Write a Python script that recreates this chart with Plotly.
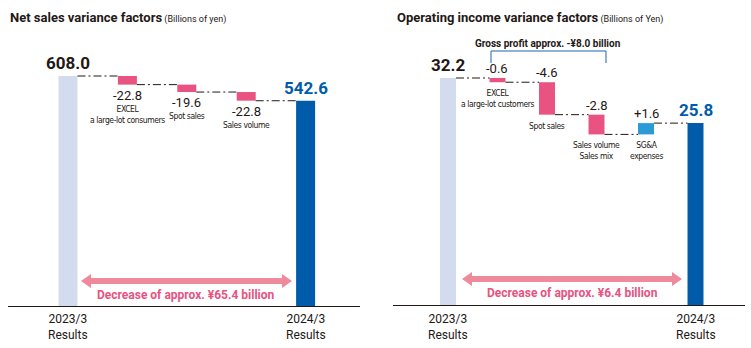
import plotly.graph_objects as go

W, H = 751, 348

# ---------------- data ----------------
ns_start_label = "2023/3<br>Results"
ns_end_label = "2024/3<br>Results"
ns_start = 608.0
ns_end = 542.6
ns_factor_names = ["EXCEL<br>a large-lot consumers", "Spot sales", "Sales volume"]
ns_factor_values = [-22.8, -19.6, -22.8]

oi_start = 32.2
oi_end = 25.8
oi_factor_names = ["EXCEL<br>a large-lot customers", "Spot sales", "Sales volume<br>Sales mix", "SG&A<br>expenses"]
oi_factor_values = [-0.6, -4.6, -2.8, 1.6]

ns_title = "Net sales variance factors"
ns_unit = "(Billions of yen)"
oi_title = "Operating income variance factors"
oi_unit = "(Billions of Yen)"
ns_diff_text = "Decrease of approx. ¥65.4 billion"
oi_diff_text = "Decrease of approx. ¥6.4 billion"
gross_text = "Gross profit approx. -¥8.0 billion"

# ---------------- styles ----------------
C_START = "#d3dcef"
C_END = "#005bab"
C_NEG = "#e95382"
C_POS = "#2a9bd7"
C_ARROW = "#ef8a9c"
C_PINKTXT = "#e8527f"
C_TXT = "#231815"
FONT = "Roboto, 'Noto Sans', sans-serif"
NARROW = "'Liberation Sans Narrow', 'DejaVu Sans Condensed', Roboto, sans-serif"

def px(x):
    return x / W

def py(y):
    return 1 - y / H

def narrow(t):
    return "<br>".join(f"<span style='letter-spacing:-0.4px'>{p}</span>" for p in t.split("<br>"))

fig = go.Figure()

def add_waterfall(start, end, names, vals, xa, ya, bw):
    n = len(vals)
    xs = list(range(n + 2))
    fig.add_trace(go.Bar(x=[0], y=[start], base=[0], width=bw, marker_color=C_START,
                         marker_line_width=0, xaxis=xa, yaxis=ya, hoverinfo="skip"))
    fig.add_trace(go.Bar(x=[n + 1], y=[end], base=[0], width=bw, marker_color=C_END,
                         marker_line_width=0, xaxis=xa, yaxis=ya, hoverinfo="skip"))
    cum = start
    levels = [start]
    bases, heights, colors = [], [], []
    for v in vals:
        nxt = cum + v
        bases.append(min(cum, nxt))
        heights.append(abs(v))
        colors.append(C_NEG if v < 0 else C_POS)
        cum = nxt
        levels.append(cum)
    fig.add_trace(go.Bar(x=xs[1:n + 1], y=heights, base=bases, width=bw, marker_color=colors,
                         marker_line_width=0, xaxis=xa, yaxis=ya, hoverinfo="skip"))
    for i in range(n + 1):
        lvl = levels[i] if i < n else end
        fig.add_shape(type="line", x0=i + bw / 2, x1=i + 1 - bw / 2, y0=lvl, y1=lvl,
                      xref=xa, yref=ya, line=dict(color=C_TXT, width=1, dash="8px,3px,2px,3px"))
    return levels

bwL = 0.32
levL = add_waterfall(ns_start, ns_end, ns_factor_names, ns_factor_values, "x", "y", bwL)
bwR = 0.323
levR = add_waterfall(oi_start, oi_end, oi_factor_names, oi_factor_values, "x2", "y2", bwR)

annotations = []

def ann(**kw):
    d = dict(showarrow=False, xanchor="center")
    d.update(kw)
    annotations.append(d)

def fmt(v):
    return f"+{v:.1f}" if v > 0 else f"{v:.1f}"

# left totals
ann(x=0, y=ns_start, xref="x", yref="y", yanchor="bottom", yshift=1,
    text=f"<b>{ns_start:.1f}</b>", font=dict(size=17, color=C_TXT, family=FONT))
ann(x=len(ns_factor_values) + 1, y=ns_end, xref="x", yref="y", yanchor="bottom", yshift=1,
    text=f"<b>{ns_end:.1f}</b>", font=dict(size=17, color=C_END, family=FONT))
for i, (nm, v) in enumerate(zip(ns_factor_names, ns_factor_values)):
    bottom = min(levL[i], levL[i + 1])
    ann(x=i + 1, y=bottom, xref="x", yref="y", yanchor="top", yshift=-1,
        text=fmt(v), font=dict(size=13, color=C_TXT, family=FONT))
    ann(x=i + 1, y=bottom, xref="x", yref="y", yanchor="top", yshift=-17,
        text=narrow(nm), font=dict(size=8.5, color=C_TXT, family=NARROW))

# right totals
ann(x=0, y=oi_start, xref="x2", yref="y2", yanchor="bottom", yshift=1,
    text=f"<b>{oi_start:.1f}</b>", font=dict(size=17, color=C_TXT, family=FONT))
ann(x=len(oi_factor_values) + 1, y=oi_end, xref="x2", yref="y2", yanchor="bottom", yshift=1,
    text=f"<b>{oi_end:.1f}</b>", font=dict(size=17, color=C_END, family=FONT))
for i, (nm, v) in enumerate(zip(oi_factor_names, oi_factor_values)):
    top = max(levR[i], levR[i + 1])
    bottom = min(levR[i], levR[i + 1])
    ann(x=i + 1, y=top, xref="x2", yref="y2", yanchor="bottom", yshift=0,
        text=fmt(v), font=dict(size=13, color=C_TXT, family=FONT))
    ann(x=i + 1, y=bottom, xref="x2", yref="y2", yanchor="top", yshift=-4,
        text=narrow(nm), font=dict(size=8.5, color=C_TXT, family=NARROW))

# category labels
for xa, n in (("x", len(ns_factor_values)), ("x2", len(oi_factor_values))):
    for xi, lab in ((0, ns_start_label), (n + 1, ns_end_label)):
        ann(x=xi, y=py(310), xref=xa, yref="paper", yanchor="top",
            text=lab, font=dict(size=12, color=C_TXT, family=FONT))

# titles
ann(x=px(8), y=py(18), xref="paper", yref="paper", xanchor="left", yanchor="middle",
    text=f"<b>{ns_title}</b><span style='font-size:9px'> {ns_unit}</span>",
    font=dict(size=13, color=C_TXT, family=FONT))
ann(x=px(395), y=py(18), xref="paper", yref="paper", xanchor="left", yanchor="middle",
    text=f"<b>{oi_title}</b><span style='font-size:9px'> {oi_unit}</span>",
    font=dict(size=13, color=C_TXT, family=FONT))

# difference texts
ann(x=px(186), y=py(295), xref="paper", yref="paper", yanchor="middle",
    text=f"<b>{ns_diff_text}</b>", font=dict(size=12, color=C_PINKTXT, family=FONT))
ann(x=px(572), y=py(293), xref="paper", yref="paper", yanchor="middle",
    text=f"<b>{oi_diff_text}</b>", font=dict(size=12, color=C_PINKTXT, family=FONT))

# gross profit bracket text
ann(x=px(548), y=py(43), xref="paper", yref="paper", yanchor="middle",
    text=f"<b>{gross_text}</b>", font=dict(size=10, color=C_TXT, family=FONT))

def arrow_path(x0, x1, yc, t=3, hh=7, hl=10):
    pts = [(x0, yc), (x0 + hl, yc - hh), (x0 + hl, yc - t), (x1 - hl, yc - t), (x1 - hl, yc - hh),
           (x1, yc), (x1 - hl, yc + hh), (x1 - hl, yc + t), (x0 + hl, yc + t), (x0 + hl, yc + hh)]
    return "M " + " L ".join(f"{px(a):.5f},{py(b):.5f}" for a, b in pts) + " Z"

fig.add_shape(type="path", path=arrow_path(81, 292, 281), xref="paper", yref="paper",
              fillcolor=C_ARROW, line=dict(width=0))
fig.add_shape(type="path", path=arrow_path(462, 682, 279), xref="paper", yref="paper",
              fillcolor=C_ARROW, line=dict(width=0))

# bracket
fig.add_shape(type="path",
              path=f"M {px(491):.5f},{py(63):.5f} L {px(491):.5f},{py(51):.5f} L {px(606):.5f},{py(51):.5f} L {px(606):.5f},{py(63):.5f}",
              xref="paper", yref="paper", line=dict(color="#1a66b0", width=1))

# axes
yL_max = ns_start * 306 / 230
yR_max = oi_start * 305 / 227
sL = 59.4
sR = 49.5
xL0 = -(68 - 8) / sL
xR0 = -(448 - 393) / sR

fig.update_layout(
    width=W, height=H,
    margin=dict(l=0, r=0, t=0, b=0),
    paper_bgcolor="white", plot_bgcolor="rgba(0,0,0,0)",
    showlegend=False, barmode="overlay",
    annotations=annotations,
    xaxis=dict(domain=[px(8), px(360)], range=[xL0, xL0 + 352 / sL], showgrid=False, zeroline=False,
               showticklabels=False, ticks="", showline=True, linecolor=C_TXT, linewidth=1),
    yaxis=dict(domain=[42 / H, 1], range=[0, yL_max], visible=False),
    xaxis2=dict(domain=[px(393), px(745)], range=[xR0, xR0 + 352 / sR], showgrid=False, zeroline=False,
                showticklabels=False, ticks="", showline=True, linecolor=C_TXT, linewidth=1,
                anchor="y2"),
    yaxis2=dict(domain=[43 / H, 1], range=[0, yR_max], visible=False, anchor="x2"),
)

fig.write_html("out.html")
